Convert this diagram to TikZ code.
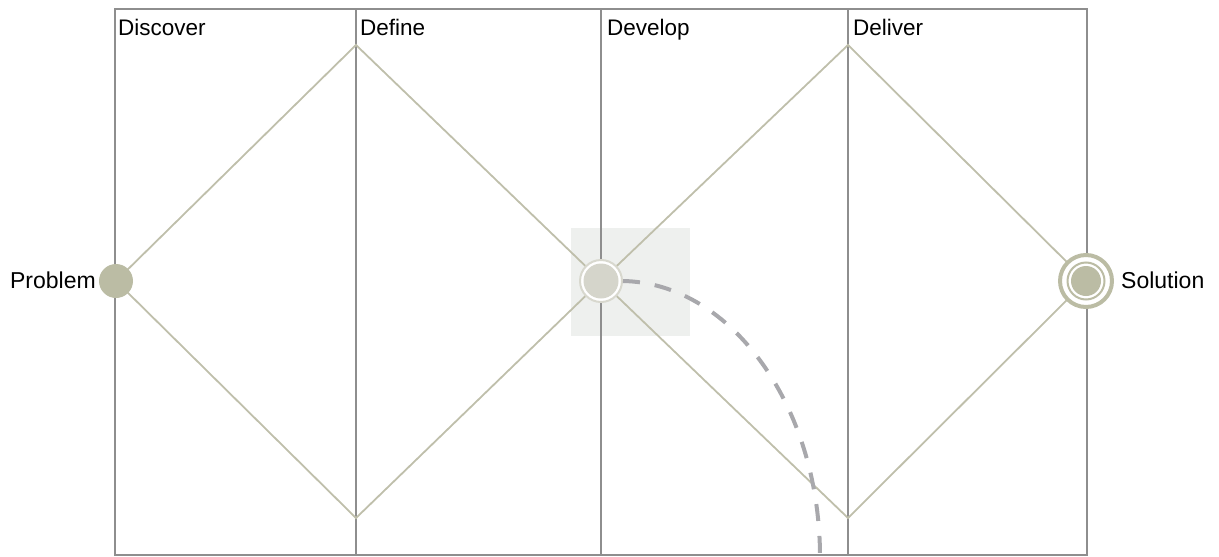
\documentclass[tikz,border=0pt]{standalone}
\usepackage{fontspec}
\setmainfont{Liberation Sans}
\definecolor{framegray}{HTML}{8E8E8E}
\definecolor{diam}{HTML}{BFBFAB}
\definecolor{olive}{HTML}{BBBCA4}
\definecolor{midfill}{HTML}{D5D5CB}
\definecolor{midring}{HTML}{D8D8CE}
\definecolor{sqfill}{HTML}{EEF0EE}
\definecolor{dashgray}{HTML}{A8A8AC}
\tikzset{
  framebox/.style={draw=framegray, line width=1.8pt},
  diamline/.style={draw=diam, line width=1.8pt},
  phase/.style={anchor=base west, inner sep=0pt, font=\fontsize{22.5}{25}\selectfont},
  endlabel/.style={inner sep=0pt, font=\fontsize{23}{25}\selectfont},
  dashcurve/.style={draw=dashgray, line width=4pt, dash pattern=on 17pt off 15pt},
}
\begin{document}
\begin{tikzpicture}[x=1pt, y=-1pt]
\useasboundingbox (0,0) rectangle (1219,557);
% highlight square
\fill[sqfill] (571,228) rectangle (690,336);
% frame
\draw[framebox] (115,9) rectangle (1087,555);
\draw[framebox] (356,9) -- (356,555);
\draw[framebox] (601,9) -- (601,555);
\draw[framebox] (848,9) -- (848,555);
% phase labels
\node[phase] (discover) at (118,35) {Discover};
\node[phase] (define) at (360,35) {Define};
\node[phase] (develop) at (607,35) {Develop};
\node[phase] (deliver) at (853,35) {Deliver};
% diamond vertices
\coordinate (p) at (116,281);
\coordinate (t1) at (356,45);
\coordinate (b1) at (356,518);
\coordinate (m) at (601,281);
\coordinate (t2) at (848,45);
\coordinate (b2) at (848,518);
\coordinate (s) at (1086,281);
\draw[diamline] (p) -- (t1) -- (m) -- (b1) -- cycle;
\draw[diamline] (m) -- (t2) -- (s) -- (b2) -- cycle;
% problem node
\node[circle, fill=olive, minimum size=34pt, inner sep=0pt] (problem) at (p) {};
\node[endlabel, anchor=base east] (problemlabel) at (96,288) {Problem};
% middle node
\node[circle, fill=white, draw=midring, line width=2pt, minimum size=42pt, inner sep=0pt] (midouter) at (m) {};
\node[circle, fill=midfill, minimum size=35pt, inner sep=0pt] (midinner) at (m) {};
% solution node
\node[circle, fill=white, draw=olive, line width=4pt, minimum size=52pt, inner sep=0pt] (solouter) at (s) {};
\node[circle, draw=olive, line width=2pt, minimum size=37pt, inner sep=0pt] (solring) at (s) {};
\node[circle, fill=olive, minimum size=30pt, inner sep=0pt] (solinner) at (s) {};
\node[endlabel, anchor=base west] (solutionlabel) at (1121,288) {Solution};
% dashed curve
\coordinate (dashend) at (820,557);
\draw[dashcurve] (midouter.east) .. controls (731,283) and (820,406) .. (dashend);
\end{tikzpicture}
\end{document}
